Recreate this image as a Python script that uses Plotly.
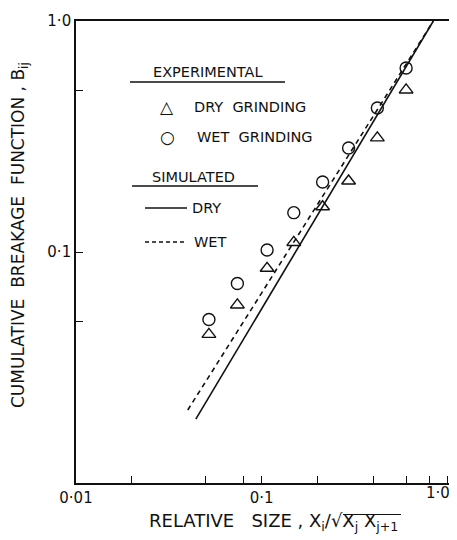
import plotly.graph_objects as go

# ---- data ----
relative_size = [0.052, 0.074, 0.107, 0.149, 0.213, 0.294, 0.42, 0.60]
dry_grinding = [0.044, 0.059, 0.085, 0.110, 0.157, 0.203, 0.312, 0.503]
wet_grinding = [0.051, 0.073, 0.102, 0.148, 0.201, 0.282, 0.420, 0.626]

sim_dry_x = [0.0442, 0.841]
sim_dry_y = [0.0189, 1.0]
sim_wet_x = [0.0400, 0.841]
sim_wet_y = [0.0207, 1.0]

x_major_vals = [0.01, 0.1]
x_major_text = ["0·01", "0·1"]
x_minor_vals = [0.02, 0.05, 0.08, 0.2, 0.4, 0.6, 0.8, 1.0]
x_last_label = "1·0"
y_major_vals = [0.1, 1.0]
y_major_text = ["0·1", "1·0"]
y_minor_vals = [0.05, 0.5]

FONT = "DejaVu Sans"
INK = "#111111"

fig = go.Figure()
fig.add_trace(go.Scatter(x=sim_dry_x, y=sim_dry_y, mode="lines",
                         line=dict(color=INK, width=1.6), name="DRY"))
fig.add_trace(go.Scatter(x=sim_wet_x, y=sim_wet_y, mode="lines",
                         line=dict(color=INK, width=1.6, dash="5px,4px"), name="WET"))
fig.add_trace(go.Scatter(x=relative_size, y=dry_grinding, mode="markers",
                         marker=dict(symbol="triangle-up-open", size=12, color=INK,
                                     line=dict(width=1.4)), name="DRY GRINDING"))
fig.add_trace(go.Scatter(x=relative_size, y=wet_grinding, mode="markers",
                         marker=dict(symbol="circle-open", size=12, color=INK,
                                     line=dict(width=1.4)), name="WET GRINDING"))

# the page body adds an 8px offset; positions below are in window pixels
OFF = 8
W, H = 457 - OFF, 540 - OFF
L, R, T, B = 76 - OFF, 6, 21 - OFF, 57
pw, ph = W - L - R, H - T - B

def px(x):
    return (x - OFF - L) / pw

def py(y):
    return 1 - (y - OFF - T) / ph

annotations = []
def txt(text, x, y, size=15, xanchor="left", angle=0):
    annotations.append(dict(text=text, x=px(x), y=py(y), xref="paper", yref="paper",
                            showarrow=False, xanchor=xanchor, yanchor="middle",
                            textangle=angle, font=dict(family=FONT, size=size, color=INK)))

txt("EXPERIMENTAL", 151, 72, 14.5)
txt("△", 167, 107, 17, "center")
txt("DRY  GRINDING", 192, 107, 14.5)
txt("○", 167, 137, 17, "center")
txt("WET  GRINDING", 195, 137, 14.5)
txt("SIMULATED", 150, 177, 14.5)
txt("DRY", 190, 208, 14.5)
txt("WET", 192, 242, 14.5)
txt(x_last_label, 452, 493, 15, "right")
txt("RELATIVE   SIZE , X<sub>i</sub>/√X<sub>j</sub> X<sub>j+1</sub>", 273, 522, 18, "center")
txt("CUMULATIVE  BREAKAGE  FUNCTION , B<sub>ij</sub>", 19, 235, 17, "center", -90)

shapes = []
def seg(x0, y0, x1, y1, dash="solid", w=1.4):
    shapes.append(dict(type="line", xref="paper", yref="paper",
                       x0=px(x0), y0=py(y0), x1=px(x1), y1=py(y1),
                       line=dict(color=INK, width=w, dash=dash)))

seg(130, 82, 285, 82)
seg(132, 186, 258, 186)
seg(145, 208, 187, 208)
seg(145, 242, 187, 242, dash="4px,3px")
seg(343, 514.5, 401, 514.5, w=1.2)   # overline of the square root

fig.update_layout(
    width=W, height=H,
    margin=dict(l=L, r=R, t=T, b=B, autoexpand=False),
    paper_bgcolor="white", plot_bgcolor="white",
    showlegend=False,
    font=dict(family=FONT, size=15, color=INK),
    annotations=annotations,
    shapes=shapes,
)
axis_common = dict(type="log", tickmode="array",
                   ticks="inside", ticklen=7, tickwidth=1.4, tickcolor=INK,
                   showline=True, linecolor=INK, linewidth=1.6, mirror=True,
                   showgrid=False, zeroline=False, tickfont=dict(size=15),
                   ticklabeloverflow="allow", automargin=False)
fig.update_xaxes(range=[-2, 0.02], tickvals=x_major_vals, ticktext=x_major_text,
                 minor=dict(tickmode="array", tickvals=x_minor_vals, ticks="inside",
                            ticklen=7, tickwidth=1.4, tickcolor=INK, showgrid=False),
                 **axis_common)
fig.update_yaxes(range=[-2, 0], tickvals=y_major_vals, ticktext=y_major_text,
                 minor=dict(tickmode="array", tickvals=y_minor_vals, ticks="inside",
                            ticklen=7, tickwidth=1.4, tickcolor=INK, showgrid=False),
                 **axis_common)

fig.write_html("out.html")
